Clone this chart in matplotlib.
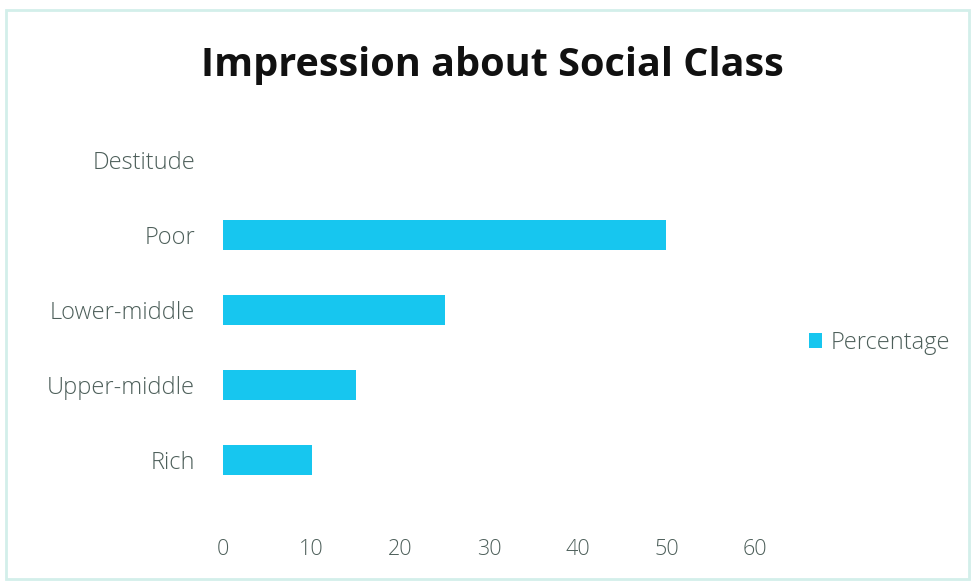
import matplotlib.pyplot as plt
from matplotlib.patches import Rectangle

categories = ["Rich", "Upper-middle", "Lower-middle", "Poor", "Destitude"]
percentage = [10, 15, 25, 50, 0]
xticks = [0, 10, 20, 30, 40, 50, 60]

bar_color = "#17c6ef"
label_color = "#4d5f5a"

fig = plt.figure(figsize=(9.73, 5.81), dpi=100)
fig.patch.set_facecolor("white")

# thin frame around the chart area
fig.add_artist(Rectangle((0.006, 0.003), 0.99, 0.98, transform=fig.transFigure,
                         fill=False, edgecolor="#d3efea", linewidth=2.0))

ax = fig.add_axes([0.2292, 0.1437, 0.5468, 0.645])
ypos = range(len(categories))
ax.barh(list(ypos), percentage, height=0.4, color=bar_color, label="Percentage")

ax.set_xlim(0, 60)
ax.set_ylim(-0.5, len(categories) - 0.5)
ax.set_xticks(xticks)
ax.set_xticklabels([str(t) for t in xticks])
ax.set_yticks(list(ypos))
ax.set_yticklabels(categories)

for s in ax.spines.values():
    s.set_visible(False)
ax.tick_params(axis="both", length=0, colors=label_color)
ax.tick_params(axis="x", pad=30, labelsize=15.5)
ax.tick_params(axis="y", pad=20, labelsize=17)
for lab in ax.get_xticklabels() + ax.get_yticklabels():
    lab.set_fontfamily("Open Sans")
    lab.set_fontweight("light")

fig.text(0.506, 0.888, "Impression about Social Class", ha="center", va="center",
         fontsize=28.5, fontweight="bold", fontfamily="Open Sans", color="#111111")

leg = fig.legend(loc="center left", bbox_to_anchor=(0.81, 0.41), frameon=False,
                 handlelength=0.55, handleheight=0.55, handletextpad=0.35,
                 prop={"family": "Open Sans", "size": 17, "weight": "light"})
for t in leg.get_texts():
    t.set_color(label_color)

fig.savefig("out.png", dpi=100, facecolor="white")
